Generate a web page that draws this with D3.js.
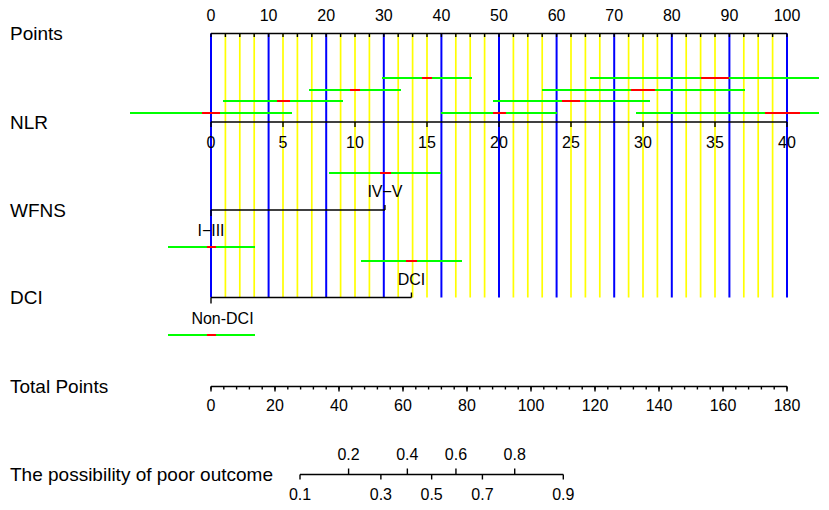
<!DOCTYPE html>
<html>
<head>
<meta charset="utf-8">
<script src="https://cdn.jsdelivr.net/npm/d3@7"></script>
<style>
  body { margin: 0; background: #fff; }
  text { font-family: "Liberation Sans", Arial, sans-serif; fill: #000; }
</style>
</head>
<body>
<div id="chart"></div>
<script>
// row labels on the left
const rowLabels = ["Points", "NLR", "WFNS", "DCI", "Total Points", "The possibility of poor outcome"];

// Points scale
const pointLabels = d3.range(0, 101, 10);
const pointMinor = d3.range(0, 100.01, 2.5);

// NLR scale and the interval bars drawn above it
const nlrTicks = [0, 5, 10, 15, 20, 25, 30, 35, 40];
const nlrLevel = [0, 1, 2, 3, 0, 1, 2, 3, 0];
const nlrLow = [-5.6, 0.8, 6.8, 11.9, 16.0, 19.6, 23.0, 26.3, 29.5];
const nlrHigh = [5.65, 9.2, 13.2, 18.15, 24.0, 30.5, 37.1, 42.2, 42.2];
const nlrRedLow = [-0.65, 4.56, 9.65, 14.67, 19.56, 24.4, 29.2, 34.0, 38.5];
const nlrRedHigh = [0.63, 5.49, 10.35, 15.37, 20.47, 25.6, 30.8, 36.0, 40.9];

// WFNS (in points)
const wfnsLevels = ["I\u2212III", "IV\u2212V"];
const wfnsPoints = [0, 30.2];
const wfnsLow = [-7.5, 20.5];
const wfnsHigh = [7.6, 39.9];
const wfnsRedLow = [-0.75, 29.3];
const wfnsRedHigh = [0.8, 31.2];

// DCI (in points)
const dciLevels = ["Non-DCI", "DCI"];
const dciPoints = [0, 34.8];
const dciLow = [-7.5, 26.0];
const dciHigh = [7.6, 43.5];
const dciRedLow = [-0.75, 33.85];
const dciRedHigh = [0.8, 35.7];

// Total points
const totalLabels = d3.range(0, 181, 20);
const totalMinor = d3.range(0, 180.01, 4);

// predicted probability
const probTicks = [0.1, 0.2, 0.3, 0.4, 0.5, 0.6, 0.7, 0.8, 0.9];

const W = 829, H = 510;
const rowY = [33.5, 122, 210, 297.5, 386.5, 474.5];

const svg = d3.select("#chart")
  .append("svg")
    .attr("width", W)
    .attr("height", H);

const x = d3.scaleLinear().domain([0, 100]).range([211, 787]);
const xNlr = d3.scaleLinear().domain([0, 40]).range([211, 787]);
const xTot = d3.scaleLinear().domain([0, 180]).range([211, 787]);
const logit = p => Math.log(p / (1 - p));
const xProb = d3.scaleLinear().domain([logit(0.1), logit(0.9)]).range([300, 563.3]);

// left labels
svg.selectAll(".rowlab")
  .data(rowLabels)
  .join("text")
    .attr("x", 10)
    .attr("y", (d, i) => rowY[i])
    .attr("dy", "0.36em")
    .style("font-size", "19px")
    .text(d => d);

// vertical grid lines
svg.selectAll(".vline")
  .data(pointMinor)
  .join("line")
    .attr("x1", d => x(d)).attr("x2", d => x(d))
    .attr("y1", rowY[0]).attr("y2", rowY[3])
    .attr("stroke", d => d % 10 === 0 ? "#0000ff" : "#ffff00")
    .attr("stroke-width", d => d % 10 === 0 ? 2 : 1.7);

function hline(x1, x2, y) {
  svg.append("line")
    .attr("x1", x1).attr("x2", x2).attr("y1", y).attr("y2", y)
    .attr("stroke", "#000").attr("stroke-width", 1.6);
}
function ticks(vals, scale, y, len) {
  svg.append("g").selectAll("line")
    .data(vals)
    .join("line")
      .attr("x1", d => scale(d)).attr("x2", d => scale(d))
      .attr("y1", y).attr("y2", y + len)
      .attr("stroke", "#000").attr("stroke-width", 1.4);
}
function labels(vals, scale, y, fmt) {
  svg.append("g").selectAll("text")
    .data(vals)
    .join("text")
      .attr("x", d => scale(d))
      .attr("y", y)
      .attr("text-anchor", "middle")
      .style("font-size", "16px")
      .text(fmt || (d => d));
}

// Points axis
hline(x(0), x(100), rowY[0]);
ticks(pointMinor, x, rowY[0], 3.5);
labels(pointLabels, x, rowY[0] - 13);

// NLR axis
hline(xNlr(0), xNlr(40), rowY[1]);
ticks(nlrTicks, xNlr, rowY[1], 5);
labels(nlrTicks, xNlr, rowY[1] + 26);

// categorical axes
function catAxis(levels, pts, y, shift) {
  hline(x(pts[0]), x(pts[pts.length - 1]), y);
  svg.append("g").selectAll("line")
    .data(pts)
    .join("line")
      .attr("x1", d => x(d)).attr("x2", d => x(d))
      .attr("y1", y).attr("y2", (d, i) => i % 2 ? y - 5 : y + 6)
      .attr("stroke", "#000").attr("stroke-width", 1.4);
  svg.append("g").selectAll("text")
    .data(levels)
    .join("text")
      .attr("x", (d, i) => x(pts[i]) + shift[i])
      .attr("y", (d, i) => i % 2 ? y - 13 : y + 26)
      .attr("text-anchor", "middle")
      .style("font-size", "16px")
      .text(d => d);
}
catAxis(wfnsLevels, wfnsPoints, rowY[2], [0, 0]);
catAxis(dciLevels, dciPoints, rowY[3], [11.5, 0]);

// interval bars: green range with red centre part
function bars(lo, hi, rlo, rhi, scale, ys) {
  const g = svg.append("g").attr("shape-rendering", "crispEdges");
  g.selectAll(".g")
    .data(lo)
    .join("line")
      .attr("x1", (d, i) => scale(lo[i])).attr("x2", (d, i) => scale(hi[i]))
      .attr("y1", (d, i) => ys[i]).attr("y2", (d, i) => ys[i])
      .attr("stroke", "#00ff00").attr("stroke-width", 2);
  g.selectAll(".r")
    .data(rlo)
    .join("line")
      .attr("x1", (d, i) => scale(rlo[i])).attr("x2", (d, i) => scale(rhi[i]))
      .attr("y1", (d, i) => ys[i]).attr("y2", (d, i) => ys[i])
      .attr("stroke", "#ff0000").attr("stroke-width", 2);
}
bars(nlrLow, nlrHigh, nlrRedLow, nlrRedHigh, xNlr,
     nlrLevel.map(l => Math.round(rowY[1] - 9 - l * 11.7)));
bars(wfnsLow, wfnsHigh, wfnsRedLow, wfnsRedHigh, x,
     wfnsPoints.map((d, i) => Math.round(i % 2 ? rowY[2] - 37 : rowY[2] + 37)));
bars(dciLow, dciHigh, dciRedLow, dciRedHigh, x,
     dciPoints.map((d, i) => Math.round(i % 2 ? rowY[3] - 37 : rowY[3] + 37)));

// Total points axis
hline(xTot(0), xTot(180), rowY[4]);
ticks(totalMinor, xTot, rowY[4], 3);
ticks(totalLabels, xTot, rowY[4], 5);
labels(totalLabels, xTot, rowY[4] + 24.5);

// probability axis
hline(xProb(logit(0.1)), xProb(logit(0.9)), rowY[5]);
svg.append("g").selectAll("line")
  .data(probTicks)
  .join("line")
    .attr("x1", d => xProb(logit(d))).attr("x2", d => xProb(logit(d)))
    .attr("y1", rowY[5]).attr("y2", (d, i) => i % 2 ? rowY[5] - 6 : rowY[5] + 5)
    .attr("stroke", "#000").attr("stroke-width", 1.4);
svg.append("g").selectAll("text")
  .data(probTicks)
  .join("text")
    .attr("x", d => xProb(logit(d)))
    .attr("y", (d, i) => i % 2 ? rowY[5] - 14.5 : rowY[5] + 25.5)
    .attr("text-anchor", "middle")
    .style("font-size", "16px")
    .text(d => d);
</script>
</body>
</html>
